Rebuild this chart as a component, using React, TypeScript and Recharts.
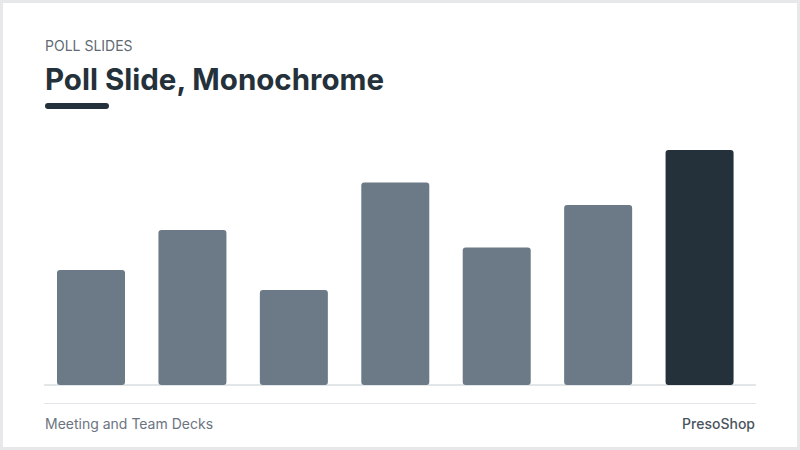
import { BarChart, Bar, XAxis, YAxis, Cell } from "recharts";

// poll options (labels are not shown on the slide)
const options = ["Option A", "Option B", "Option C", "Option D", "Option E", "Option F", "Option G"];
// share of votes, percent
const votes = [46, 62, 38, 81, 55, 72, 94];
// the last option is the highlighted one
const highlight = [false, false, false, false, false, false, true];

const data = options.map((name, i) => ({ name, votes: votes[i], hi: highlight[i] }));

const FONT = "Inter, 'Noto Sans', sans-serif";
const DARK = "#24313b";
const GREY = "#6b7a86";
const LINE = "#e3e6e8";

export default function App() {
  return (
    <div
      style={{
        position: "fixed",
        left: 0,
        top: 0,
        width: 800,
        height: 450,
        boxSizing: "border-box",
        border: "3px solid #e6e8ea",
        background: "#ffffff",
        fontFamily: FONT,
      }}
    >
      {/* header */}
      <div
        style={{
          position: "absolute",
          left: 42,
          top: 33,
          fontSize: 14,
          color: "#5f6b74",
          lineHeight: "20px",
        }}
      >
        POLL SLIDES
      </div>
      <div
        style={{
          position: "absolute",
          left: 42,
          top: 58,
          fontSize: 29.5,
          fontWeight: 700,
          color: DARK,
          lineHeight: "36px",
        }}
      >
        Poll Slide, Monochrome
      </div>
      <div
        style={{
          position: "absolute",
          left: 42,
          top: 100,
          width: 64,
          height: 6,
          borderRadius: 3,
          background: DARK,
        }}
      />

      {/* baseline */}
      <div style={{ position: "absolute", left: 41, top: 381, width: 712, height: 2, background: LINE }} />

      <div style={{ position: "absolute", left: 37, top: 132 }}>
        <BarChart width={710} height={250} data={data} margin={{ top: 0, right: 0, bottom: 0, left: 0 }}>
          <XAxis dataKey="name" hide />
          <YAxis hide domain={[0, 100]} />
          <Bar dataKey="votes" barSize={68} radius={[3, 3, 3, 3]} isAnimationActive={false}>
            {data.map((d) => (
              <Cell key={d.name} fill={d.hi ? DARK : GREY} />
            ))}
          </Bar>
        </BarChart>
      </div>

      {/* footer */}
      <div style={{ position: "absolute", left: 41, top: 400, width: 712, height: 1, background: LINE }} />
      <div
        style={{
          position: "absolute",
          left: 42,
          top: 411,
          fontSize: 14,
          color: "#6b7480",
          lineHeight: "20px",
        }}
      >
        Meeting and Team Decks
      </div>
      <div
        style={{
          position: "absolute",
          right: 42,
          top: 411,
          fontSize: 14,
          fontWeight: 500,
          color: "#4a545d",
          lineHeight: "20px",
        }}
      >
        PresoShop
      </div>
    </div>
  );
}
